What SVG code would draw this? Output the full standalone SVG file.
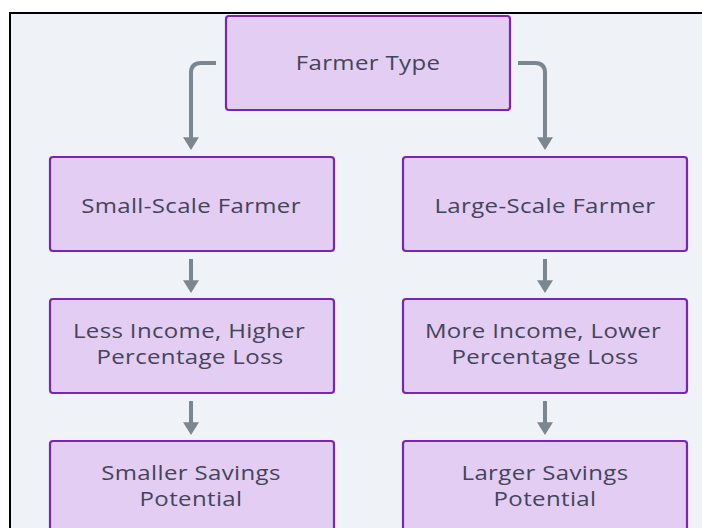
<svg xmlns="http://www.w3.org/2000/svg" width="702" height="528" viewBox="0 0 702 528">
<defs>
<style>
.node rect{fill:#E3CDF3;stroke:#7A24B8;stroke-width:2.2}
.node text{font-family:"Open Sans","Liberation Sans",sans-serif;font-size:19.5px;font-weight:500;fill:#44445A;text-anchor:middle;letter-spacing:0.3px}
.conn path{fill:none;stroke:#7A8791;stroke-width:4}
</style>
<marker id="ah" markerWidth="4" markerHeight="4" refX="1.2" refY="2" orient="auto" markerUnits="strokeWidth" viewBox="0 0 4 4">
<path d="M0,0 L3.2,2 L0,4 Z" fill="#7A8791"/>
</marker>
</defs>
<rect x="0" y="0" width="702" height="528" fill="#FFFFFF"/>
<rect x="10" y="13" width="700" height="530" fill="#EFF3F7" stroke="#000000" stroke-width="2"/>
<g id="connectors" class="conn">
<path d="M216,63 H201 Q191,63 191,73 V142" marker-end="url(#ah)"/>
<path d="M518,63 H535 Q545,63 545,73 V142" marker-end="url(#ah)"/>
<path d="M191,259 V285" marker-end="url(#ah)"/>
<path d="M545,259 V285" marker-end="url(#ah)"/>
<path d="M191,401 V427" marker-end="url(#ah)"/>
<path d="M545,401 V427" marker-end="url(#ah)"/>
</g>
<g id="farmer-type" class="node">
<rect x="226" y="16" width="284" height="94" rx="3"/>
<text transform="translate(368 70) scale(1.23 1)">Farmer Type</text>
</g>
<g id="small-scale" class="node">
<rect x="50" y="157" width="284" height="94" rx="3"/>
<text transform="translate(191 213) scale(1.23 1)">Small-Scale Farmer</text>
</g>
<g id="large-scale" class="node">
<rect x="403" y="157" width="284" height="94" rx="3"/>
<text transform="translate(545 213) scale(1.23 1)">Large-Scale Farmer</text>
</g>
<g id="less-income" class="node">
<rect x="50" y="299" width="284" height="94" rx="3"/>
<text transform="translate(189 338) scale(1.23 1)">Less Income, Higher</text>
<text transform="translate(190 364) scale(1.23 1)">Percentage Loss</text>
</g>
<g id="more-income" class="node">
<rect x="403" y="299" width="284" height="94" rx="3"/>
<text transform="translate(543 338) scale(1.23 1)">More Income, Lower</text>
<text transform="translate(545 364) scale(1.23 1)">Percentage Loss</text>
</g>
<g id="smaller-savings" class="node">
<rect x="50" y="441" width="284" height="94" rx="3"/>
<text transform="translate(191 480) scale(1.23 1)">Smaller Savings</text>
<text transform="translate(191 506) scale(1.23 1)">Potential</text>
</g>
<g id="larger-savings" class="node">
<rect x="403" y="441" width="284" height="94" rx="3"/>
<text transform="translate(545 480) scale(1.23 1)">Larger Savings</text>
<text transform="translate(545 506) scale(1.23 1)">Potential</text>
</g>
</svg>
